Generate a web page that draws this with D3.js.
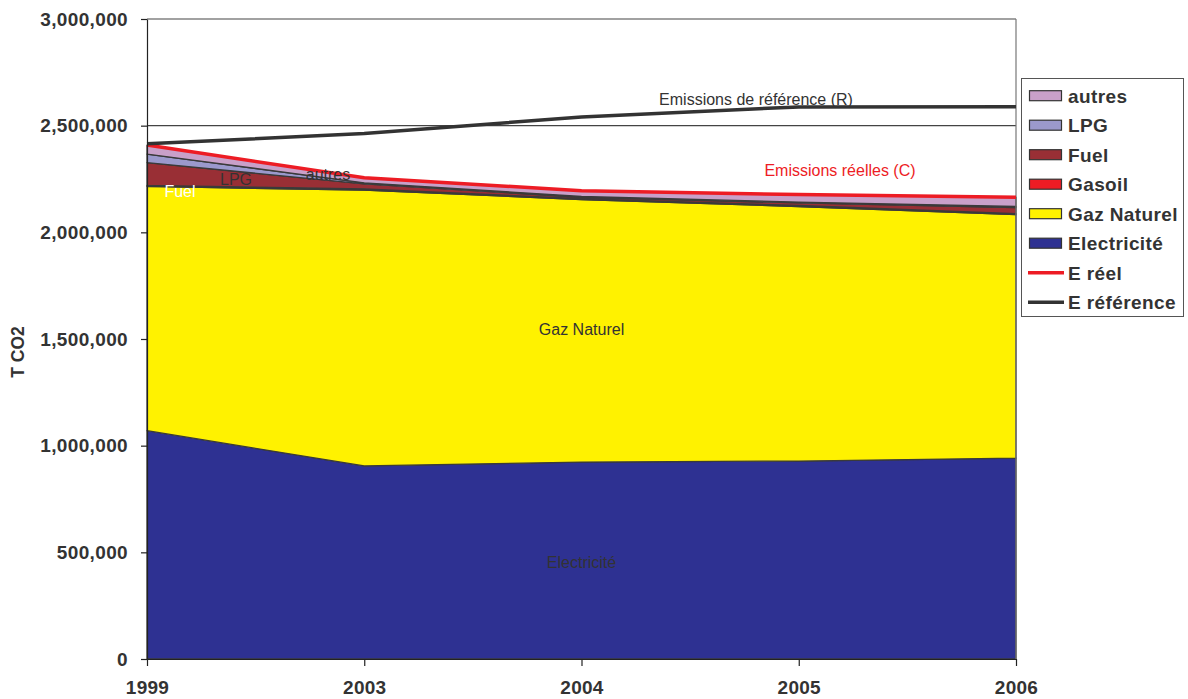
<!DOCTYPE html>
<html>
<head>
<meta charset="utf-8">
<script src="https://cdn.jsdelivr.net/npm/d3@7"></script>
<style>
  html, body { margin: 0; padding: 0; background: #fff; }
  svg { display: block; font-family: Arial, "Liberation Sans", sans-serif; }
</style>
</head>
<body>
<svg id="chart" width="1188" height="699"></svg>
<script>
// Emissions de CO2 par source d'énergie (T CO2)
const years = ["1999", "2003", "2004", "2005", "2006"];
const electricite = [1070000, 905000, 923000, 928000, 942000];
const gazNaturel = [1145000, 1293000, 1231000, 1193000, 1141000];
const gasoil = [5000, 6000, 4000, 5000, 5000];
const fuel = [107000, 23000, 6000, 12000, 28000];
const lpg = [40000, 5000, 4000, 4000, 5000];
const autres = [42000, 24000, 27000, 35000, 44000];
const eReel = [2409000, 2256000, 2195000, 2177000, 2165000];
const eReference = [2415000, 2463000, 2541000, 2588000, 2589000];
const yTicks = [0, 500000, 1000000, 1500000, 2000000, 2500000, 3000000];

const seriesNames = ["Electricité", "Gaz Naturel", "Gasoil", "Fuel", "LPG", "autres"];
const seriesValues = [electricite, gazNaturel, gasoil, fuel, lpg, autres];
const colors = {
  "Electricité": "#2e3192",
  "Gaz Naturel": "#fff200",
  "Gasoil": "#ed1c24",
  "Fuel": "#992f35",
  "LPG": "#9b99cc",
  "autres": "#c9a0c9"
};

const rows = years.map((yr, i) => {
  const r = { year: yr };
  seriesNames.forEach((n, k) => { r[n] = seriesValues[k][i]; });
  return r;
});

const svg = d3.select("#chart");
const plotLeft = 147, plotRight = 1016, plotTop = 19, plotBottom = 659;

const x = d3.scalePoint().domain(years).range([plotLeft, plotRight]);
const y = d3.scaleLinear().domain([0, 3000000]).range([plotBottom, plotTop]);

// gridlines
svg.append("g")
  .selectAll("line")
  .data(yTicks)
  .join("line")
  .attr("x1", plotLeft).attr("x2", plotRight)
  .attr("y1", d => y(d)).attr("y2", d => y(d))
  .attr("stroke", "#444").attr("stroke-width", 1.2);

// stacked areas
const stack = d3.stack().keys(seriesNames);
const layers = stack(rows);
const area = d3.area()
  .x(d => x(d.data.year))
  .y0(d => y(d[0]))
  .y1(d => y(d[1]));

svg.append("g")
  .selectAll("path")
  .data(layers)
  .join("path")
  .attr("d", area)
  .attr("fill", d => colors[d.key])
  .attr("stroke", "#3a3a3a")
  .attr("stroke-width", 1.3)
  .attr("stroke-linejoin", "round");

// plot frame (right border)
svg.append("line")
  .attr("x1", plotRight).attr("x2", plotRight).attr("y1", plotTop).attr("y2", plotBottom)
  .attr("stroke", "#777").attr("stroke-width", 1.2);

// emission lines
const line = d3.line().x((d, i) => x(years[i])).y(d => y(d));
svg.append("path")
  .attr("d", line(eReel))
  .attr("fill", "none").attr("stroke", "#ed1c24").attr("stroke-width", 3.5);
svg.append("path")
  .attr("d", line(eReference))
  .attr("fill", "none").attr("stroke", "#333").attr("stroke-width", 3.5);

// axes
const yAxis = d3.axisLeft(y).tickValues(yTicks).tickSize(6).tickSizeOuter(0)
  .tickFormat(d3.format(",d"));
const gy = svg.append("g").attr("transform", `translate(${plotLeft},0)`).call(yAxis);
gy.select(".domain").attr("stroke", "#222").attr("stroke-width", 1.2);
gy.selectAll(".tick line").attr("stroke", "#222").attr("stroke-width", 1.2);
gy.selectAll(".tick text")
  .attr("x", -19)
  .attr("font-family", "Arial, 'Liberation Sans', sans-serif")
  .attr("font-size", 19).attr("letter-spacing", 0.35)
  .attr("font-weight", "bold").attr("fill", "#333");

const xAxis = d3.axisBottom(x).tickSize(7).tickSizeOuter(0);
const gx = svg.append("g").attr("transform", `translate(0,${plotBottom})`).call(xAxis);
gx.select(".domain").attr("stroke", "#222").attr("stroke-width", 1.2);
gx.selectAll(".tick line").attr("stroke", "#222").attr("stroke-width", 1.2);
gx.selectAll(".tick text")
  .attr("y", 22)
  .attr("font-family", "Arial, 'Liberation Sans', sans-serif")
  .attr("font-size", 19).attr("letter-spacing", 0.3)
  .attr("font-weight", "bold").attr("fill", "#333");

// y axis title
svg.append("text")
  .attr("transform", "translate(24,352) rotate(-90)")
  .attr("text-anchor", "middle")
  .attr("font-size", 17.5).attr("font-weight", "bold").attr("fill", "#333")
  .text("T CO2");

// annotations inside the plot
const notes = [
  { t: "Electricité", xi: "2004", v: 455000, c: "#333" },
  { t: "Gaz Naturel", xi: "2004", v: 1545000, c: "#333" },
  { t: "Fuel", px: 180, v: 2193000, c: "#fff" },
  { t: "LPG", px: 236, v: 2250000, c: "#333" },
  { t: "autres", px: 328, v: 2272000, c: "#333" },
  { t: "Emissions de référence (R)", px: 756, v: 2625000, c: "#333" },
  { t: "Emissions réelles (C)", px: 840, v: 2290000, c: "#ed1c24" }
];
svg.append("g")
  .selectAll("text")
  .data(notes)
  .join("text")
  .attr("x", d => d.xi ? x(d.xi) : d.px)
  .attr("y", d => y(d.v))
  .attr("dy", "0.35em")
  .attr("text-anchor", "middle")
  .attr("font-size", 16)
  .attr("fill", d => d.c)
  .text(d => d.t);

// legend
const legendItems = [
  { name: "autres", type: "box" },
  { name: "LPG", type: "box" },
  { name: "Fuel", type: "box" },
  { name: "Gasoil", type: "box" },
  { name: "Gaz Naturel", type: "box" },
  { name: "Electricité", type: "box" },
  { name: "E réel", type: "line", color: "#ed1c24" },
  { name: "E référence", type: "line", color: "#333" }
];
const lg = svg.append("g");
lg.append("rect")
  .attr("x", 1021.5).attr("y", 78.5).attr("width", 162).attr("height", 238)
  .attr("fill", "#fff").attr("stroke", "#555").attr("stroke-width", 1);
const item = lg.selectAll("g.item")
  .data(legendItems)
  .join("g")
  .attr("class", "item")
  .attr("transform", (d, i) => `translate(0,${95.7 + i * 29.5})`);
item.filter(d => d.type === "box").append("rect")
  .attr("x", 1029.5).attr("y", -5).attr("width", 32).attr("height", 10)
  .attr("fill", d => colors[d.name]).attr("stroke", "#333").attr("stroke-width", 1.2);
item.filter(d => d.type === "line").append("line")
  .attr("x1", 1028).attr("x2", 1064).attr("y1", 0).attr("y2", 0)
  .attr("stroke", d => d.color).attr("stroke-width", 3.5);
item.append("text")
  .attr("x", 1068).attr("y", 0).attr("dy", "0.36em")
  .attr("font-size", 19).attr("letter-spacing", 0.4)
  .attr("font-weight", "bold").attr("fill", "#333")
  .text(d => d.name);
</script>
</body>
</html>
